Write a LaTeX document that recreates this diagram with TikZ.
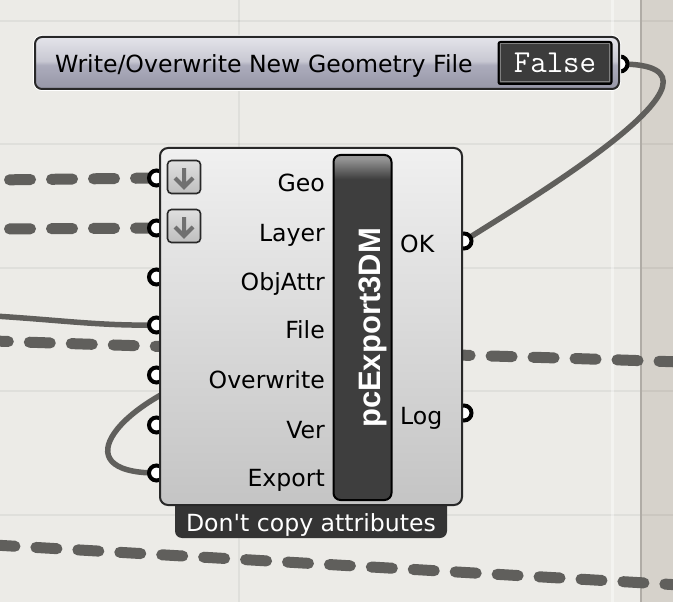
\documentclass[tikz,border=0pt]{standalone}
\usepackage{fontspec}
\setmainfont{DejaVu Sans}[Ligatures=TeXOff]
\newfontfamily\titlefont{Liberation Sans}
\usetikzlibrary{positioning}
\definecolor{canvas}{RGB}{236,235,231}
\definecolor{sidec}{RGB}{214,210,203}
\definecolor{sidel}{RGB}{176,172,166}
\definecolor{wirec}{RGB}{96,95,92}
\definecolor{edgec}{RGB}{40,40,40}
\definecolor{panelT}{RGB}{228,228,234}
\definecolor{panelM}{RGB}{200,200,210}
\definecolor{panelN}{RGB}{172,172,188}
\definecolor{panelB}{RGB}{150,150,166}
\definecolor{bodyT}{RGB}{240,240,240}
\definecolor{bodyB}{RGB}{196,196,196}
\definecolor{barc}{RGB}{62,62,62}
\definecolor{barh}{RGB}{150,150,150}
\definecolor{tabc}{RGB}{52,52,52}
\definecolor{falsec}{RGB}{60,60,60}
\definecolor{iconT}{RGB}{224,224,224}
\definecolor{iconB}{RGB}{190,190,190}
\definecolor{arrowc}{RGB}{112,112,112}
\pgfdeclareverticalshading{panelshade}{100bp}{color(0bp)=(panelB); color(25bp)=(panelB); color(48bp)=(panelN); color(52bp)=(panelM); color(75bp)=(panelT); color(100bp)=(panelT)}
\pgfdeclareverticalshading{barshade}{100bp}{color(0bp)=(barc); color(71.5bp)=(barc); color(74.5bp)=(barh); color(100bp)=(barh)}
\begin{document}
\begin{tikzpicture}[x=1pt, y=-1pt,
    wire/.style={draw=wirec, line width=5.5pt, line cap=round},
    dashwire/.style={draw=wirec, line width=11pt, line cap=round, dash pattern=on 21pt off 21pt},
    port/.style={circle, draw=black, line width=4pt, fill=white, minimum size=15pt, inner sep=0pt},
    gbox/.style={rectangle, rounded corners=#1, inner sep=0pt},
    pinname/.style={font=\fontsize{23.6}{28}\selectfont, inner sep=0pt},
    icon/.style={gbox=4pt, draw=edgec, line width=1.6pt, top color=iconT, bottom color=iconB, minimum size=33pt},
    downarrow/.style={draw=arrowc, line width=4pt}]
\useasboundingbox (0,0) rectangle (673,602);
% canvas
\fill[canvas] (0,0) rectangle (673,602);
\fill[sidec] (641,0) rectangle (673,602);
\foreach \y in {21,144,268,391,515}
{
    \draw[black, opacity=.05, line width=2.5pt] (0,\y)--(673,\y);
}
\draw[black, opacity=.05, line width=2.5pt] (239,0)--(239,602);
\draw[white, opacity=.4, line width=3pt] (612,0)--(612,602);
\draw[sidel, line width=1.5pt] (641,0)--(641,602);

% port positions
\foreach \n/\y in {Geo/178,Layer/228,ObjAttr/277,File/325,Overwrite/375,Ver/425,Export/473}
{
    \coordinate (in\n) at (156.5,\y);
}
\coordinate (outOK) at (464,241);
\coordinate (outLog) at (464,413);
\coordinate (outFalse) at (620,64);
\coordinate (geoL) at (-6,180);
\coordinate (layerL) at (-6,229);
\coordinate (fileL) at (-6,316);
\coordinate (midL) at (-6,341);
\coordinate (midR) at (680,362);
\coordinate (lowL) at (-6,545);
\coordinate (lowR) at (680,585);
\coordinate (exportB) at (220,370);

% wires
\draw[dashwire] (inGeo)--(geoL);
\draw[dashwire] (inLayer)--(layerL);
\draw[wire] (inFile) .. controls (100,326) and (60,320) .. (fileL);
\draw[dashwire] (midR) .. controls (450,354) and (250,350) .. (midL);
\draw[dashwire] (lowL)--(lowR);
\draw[wire] (inExport) .. controls (60,473) and (120,400) .. (exportB);
\draw[wire] (outFalse) .. controls (760,64) and (520,205) .. (outOK);

\foreach \n in {Geo,Layer,ObjAttr,File,Overwrite,Ver,Export}
{
    \node[port] (port\n) at (in\n) {};
}
\node[port] (portOK) at (outOK) {};
\node[port] (portLog) at (outLog) {};
\node[port] (portFalse) at (outFalse) {};

% toggle
\node[gbox=7pt, draw=edgec, line width=2pt, preaction={draw=white, line width=4pt}, shading=panelshade, minimum width=584pt, minimum height=52pt] (panel) at (327,63) {};
\node[pinname, anchor=base west] (paneltext) at (55,73) {Write/Overwrite New Geometry File};
\node[gbox=2pt, draw=black, line width=2pt, fill=falsec, minimum width=113pt, minimum height=42pt, text=white, font=\ttfamily\fontsize{32}{32}\selectfont] (false) at (555,63) {False};
\draw[gray, line width=1pt] ([shift={(3,3)}]false.north west) rectangle ([shift={(-3,-3)}]false.south east);

% component
\node[gbox=7pt, fill=tabc, minimum width=272pt, minimum height=44pt] (tab) at (311,516) {};
\node[gbox=8pt, draw=edgec, line width=2pt, top color=bodyT, bottom color=bodyB, minimum width=302pt, minimum height=357pt] (body) at (311,326.5) {};
\node[gbox=7pt, draw=black, line width=2pt, shading=barshade, minimum width=58pt, minimum height=345pt] (bar) at (362.5,327.5) {};
\node[rotate=90, anchor=base, text=white, inner sep=0pt, font=\titlefont\bfseries\fontsize{31}{31}\selectfont] (title) at (380,328) {pcExport3DM};
\node[pinname, anchor=base, text=white] (tabtext) at (311,531) {Don't copy attributes};

\node[icon] (iconGeo) at (184,177) {};
\node[icon] (iconLayer) at (184,226) {};
\foreach \i in {iconGeo,iconLayer}
{
    \draw[downarrow] (\i.center) ++(0,-9) -- ++(0,19) ++(-9,-9) -- ++(9,9) -- ++(9,-9);
}

\foreach \n/\y in {Geo/178,Layer/228,ObjAttr/277,File/325,Overwrite/375,Ver/425,Export/473}
{
    \node[pinname, anchor=base east] (lab\n) at (325,\y+13) {\n};
}
\node[pinname, anchor=base west] (labOK) at (400,252) {OK};
\node[pinname, anchor=base west] (labLog) at (400,424.5) {Log};

\end{tikzpicture}
\end{document}
